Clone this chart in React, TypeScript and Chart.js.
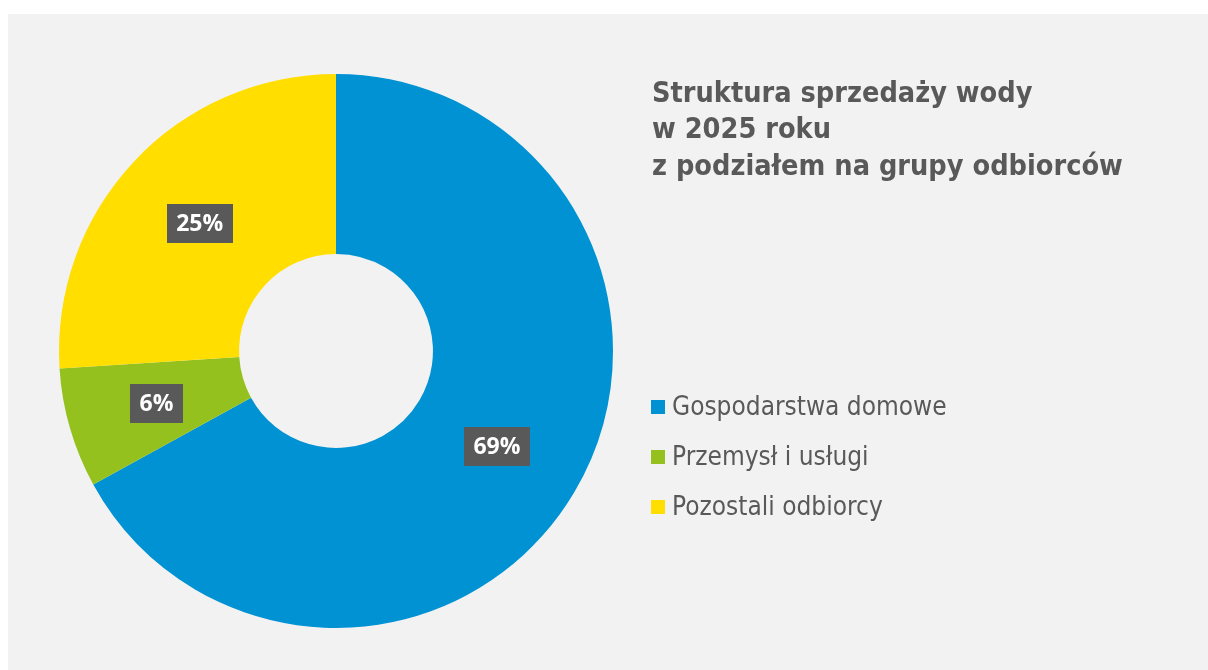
import React, { useEffect, useRef } from "react";
import { Chart, registerables } from "chart.js";

Chart.register(...registerables);

const categories = ["Gospodarstwa domowe", "Przemysł i usługi", "Pozostali odbiorcy"];
const shares = [67.0, 7.0, 26.0];
const shareLabels = ["69%", "6%", "25%"];
const colors = ["#0092D3", "#95C11F", "#FFDE00"];
const titleLines = ["Struktura sprzedaży wody", "w 2025 roku", "z podziałem na grupy odbiorców"];

const W = 1200;
const H = 656;
const TEXT_GRAY = "#595959";
const TITLE_FONT = "bold 28.6px 'DejaVu Sans Condensed', 'DejaVu Sans'";
const LEGEND_FONT = "26px 'DejaVu Sans Condensed', 'DejaVu Sans'";
const LABEL_FONT = "bold 23px 'Open Sans'";

const boxLabels = {
  id: "boxLabels",
  afterDatasetsDraw(chart: any) {
    const ctx = chart.ctx;
    const meta = chart.getDatasetMeta(0);
    ctx.save();
    ctx.font = LABEL_FONT;
    ctx.textAlign = "center";
    ctx.textBaseline = "middle";
    meta.data.forEach((arc: any, i: number) => {
      const p = arc.getCenterPoint();
      const text = shareLabels[i];
      const w = ctx.measureText(text).width + 19;
      const h = 39;
      ctx.fillStyle = TEXT_GRAY;
      ctx.fillRect(Math.round(p.x - w / 2), Math.round(p.y - h / 2), Math.round(w), h);
      ctx.fillStyle = "#ffffff";
      ctx.fillText(text, p.x, p.y + 1);
    });
    ctx.restore();
  },
};

const sideText = {
  id: "sideText",
  afterDraw(chart: any) {
    const ctx = chart.ctx;
    ctx.save();
    ctx.fillStyle = TEXT_GRAY;
    ctx.font = TITLE_FONT;
    ctx.textAlign = "left";
    ctx.textBaseline = "alphabetic";
    const titleBase = [88, 124, 161];
    titleLines.forEach((line, i) => ctx.fillText(line, 644, titleBase[i]));

    ctx.font = LEGEND_FONT;
    const bg = chart.data.datasets[0].backgroundColor as string[];
    (chart.data.labels as string[]).forEach((lab, i) => {
      const base = 401 + i * 50;
      ctx.fillStyle = bg[i];
      ctx.fillRect(643, base - 15, 14, 14);
      ctx.fillStyle = TEXT_GRAY;
      ctx.fillText(lab, 664, base);
    });
    ctx.restore();
  },
};

export default function App() {
  const ref = useRef<HTMLCanvasElement | null>(null);
  useEffect(() => {
    if (!ref.current) return;
    const chart = new Chart(ref.current, {
      type: "doughnut",
      data: {
        labels: categories,
        datasets: [
          {
            data: shares,
            backgroundColor: colors,
            borderWidth: 0,
          },
        ],
      },
      options: {
        responsive: false,
        animation: false,
        cutout: "35%",
        layout: { padding: { left: 51, top: 60, right: 595, bottom: 42 } },
        plugins: {
          legend: { display: false },
          tooltip: { enabled: false },
          title: { display: false },
        },
      },
      plugins: [boxLabels, sideText],
    });
    return () => chart.destroy();
  }, []);
  return (
    <div
      style={{
        position: "fixed",
        left: 8,
        top: 14,
        width: W,
        height: H,
        background: "#F2F2F2",
      }}
    >
      <canvas ref={ref} width={W} height={H} style={{ display: "block" }} />
    </div>
  );
}
